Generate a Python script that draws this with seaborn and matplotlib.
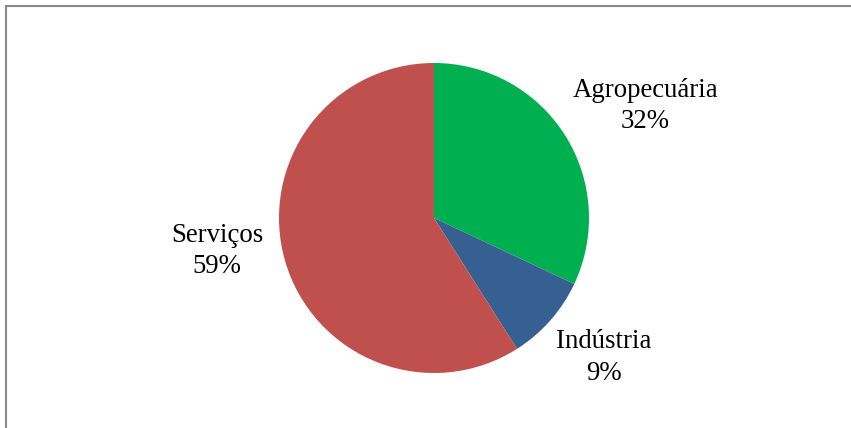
import matplotlib
matplotlib.use("Agg")
import matplotlib.pyplot as plt
import seaborn as sns
from matplotlib.lines import Line2D

sectors = ["Agropecuária", "Indústria", "Serviços"]
shares = [32, 9, 59]
colors = ["#00B050", "#376092", "#C0504D"]

sns.set_theme(style="white")
plt.rcParams["font.family"] = ["Liberation Serif", "DejaVu Serif"]

fig = plt.figure(figsize=(8.51, 4.28), dpi=100)
fig.patch.set_facecolor("white")

# pie centre (434, 218) px, radius 155 px
W, H, cx, cy, r = 851, 428, 434, 218, 155
ax = fig.add_axes([(cx - r) / W, (H - cy - r) / H, 2 * r / W, 2 * r / H])

labels = [f"{s}\n{v}%" for s, v in zip(sectors, shares)]
wedges, texts = ax.pie(shares, colors=colors, startangle=90, counterclock=False,
                       labels=labels, labeldistance=1.4,
                       wedgeprops=dict(linewidth=0),
                       textprops=dict(fontsize=19.3, color="black", ha="center",
                                      va="center", multialignment="center"))
ax.set_xlim(-1, 1)
ax.set_ylim(-1, 1)
ax.set_aspect("equal")

label_pos = [(1.365, 0.72), (1.097, -0.90), (-1.40, -0.21)]
for t, p in zip(texts, label_pos):
    t.set_position(p)
    t.set_linespacing(1.32)

# chart-area border (only top and left edges visible)
fig.add_artist(Line2D([6 / W, 1], [1 - 6 / H, 1 - 6 / H], color="#8a8a8a", lw=1.5))
fig.add_artist(Line2D([6 / W, 6 / W], [0, 1 - 6 / H], color="#8a8a8a", lw=1.5))

fig.savefig("out.png", dpi=100)
